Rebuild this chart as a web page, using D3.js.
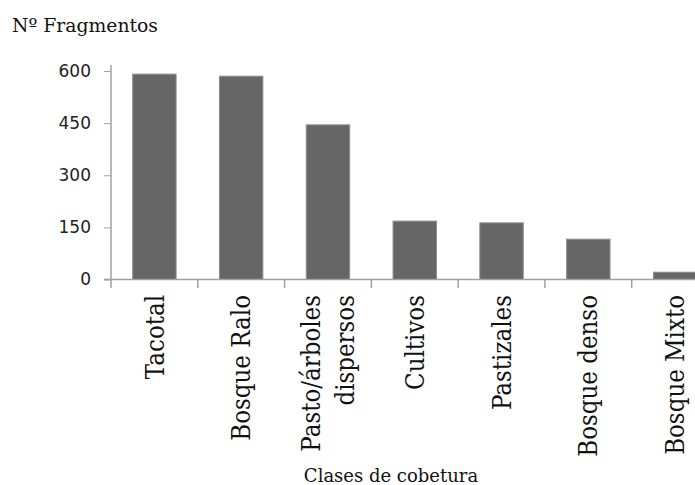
<!DOCTYPE html>
<html><head><meta charset="utf-8">
<script src="https://cdn.jsdelivr.net/npm/d3@7"></script>
<style>body{margin:0;background:#fff;}svg{display:block;}</style>
</head><body>
<svg id="chart" width="695" height="485"></svg>
<script>
const categories = [["Tacotal"],["Bosque Ralo"],["Pasto/árboles","dispersos"],["Cultivos"],["Pastizales"],["Bosque denso"],["Bosque Mixto"]];
const values = [591, 585, 445, 168, 163, 116, 21];
const yTicks = [0, 150, 300, 450, 600];
const yTitle = "Nº Fragmentos";
const xTitle = "Clases de cobetura";

const svg = d3.select("#chart");
const keys = categories.map(c => c.join(" "));
const x = d3.scaleBand().domain(keys).range([111, 718.5]).paddingInner(0.5).paddingOuter(0.25);
const y = d3.scaleLinear().domain([0, 600]).range([279.5, 71]);
const axisColor = "#a0a0a0";

// bars
svg.append("g").selectAll("rect").data(values).join("rect")
  .attr("x", (d,i) => x(keys[i]))
  .attr("y", d => y(d))
  .attr("width", x.bandwidth())
  .attr("height", d => y(0) - y(d))
  .attr("fill", "#666666")
  .attr("stroke", "#8c8c8c").attr("stroke-width", 1);

// y axis
const yAxis = svg.append("g").attr("transform", "translate(111,0)")
  .call(d3.axisLeft(y).tickValues(yTicks).tickSize(7).tickPadding(13).tickFormat(d3.format("d")));
yAxis.select(".domain").remove();
yAxis.selectAll(".tick line").attr("stroke", axisColor);
yAxis.selectAll(".tick text").attr("font-family", "DejaVu Sans").attr("font-size", 17).attr("fill", "#222");
svg.append("line").attr("x1", 111).attr("x2", 111).attr("y1", 65).attr("y2", 288)
  .attr("stroke", axisColor).attr("stroke-width", 1.5);

// x axis
svg.append("line").attr("x1", 104).attr("x2", 695).attr("y1", y(0)).attr("y2", y(0))
  .attr("stroke", axisColor).attr("stroke-width", 1.5);
const step = x.step();
svg.append("g").selectAll("line").data(keys.slice(1)).join("line")
  .attr("x1", d => x(d) - step*0.25).attr("x2", d => x(d) - step*0.25)
  .attr("y1", y(0)).attr("y2", 288)
  .attr("stroke", axisColor).attr("stroke-width", 1.5);

// category labels (rotated)
const lab = svg.append("g").selectAll("text").data(categories).join("text")
  .attr("transform", (d,i) => `translate(${x(keys[i]) + x.bandwidth()/2},295) scale(1.1,1) rotate(-90)`)
  .attr("text-anchor", "end")
  .attr("font-family", "DejaVu Serif").attr("font-size", 23).attr("fill", "#111");
lab.each(function(d){
  const t = d3.select(this);
  const n = d.length;
  d.forEach((line, j) => {
    t.append("tspan").attr("x", 0).attr("y", 0)
      .attr("dy", (0.36 + (j - (n-1)/2) * 1.35) + "em").text(line);
  });
});

// titles
svg.append("text").attr("x", 12).attr("y", 32).text(yTitle)
  .attr("font-family", "DejaVu Serif").attr("font-size", 18.8).attr("fill", "#111");
svg.append("text").attr("x", 391).attr("y", 482).attr("text-anchor", "middle").text(xTitle)
  .attr("font-family", "DejaVu Serif").attr("font-size", 18).attr("fill", "#111");
</script>
</body></html>
